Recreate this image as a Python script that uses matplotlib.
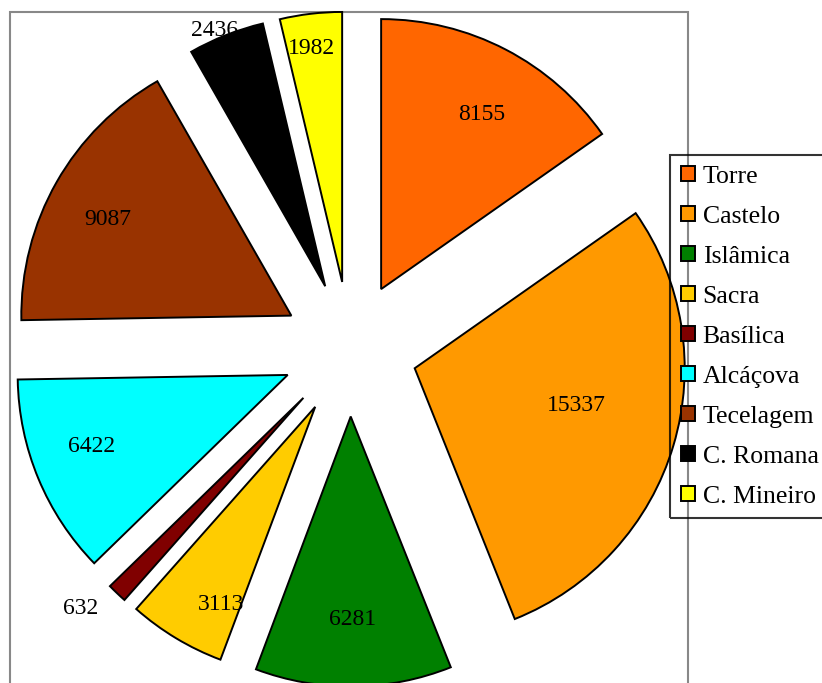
import numpy as np
import matplotlib
matplotlib.use("Agg")
import matplotlib.pyplot as plt
from matplotlib.patches import Rectangle

# data
sites = ["Torre", "Castelo", "Islâmica", "Sacra", "Basílica",
         "Alcáçova", "Tecelagem", "C. Romana", "C. Mineiro"]
counts = [8155, 15337, 6281, 3113, 632, 6422, 9087, 2436, 1982]
colours = ["#FF6600", "#FF9900", "#008000", "#FFCC00", "#800000",
           "#00FFFF", "#993300", "#000000", "#FFFF00"]

# where each value label sits: fraction of radius from the wedge tip,
# and fraction of the way across the wedge angle
label_r = [0.755, 0.611, 0.743, 0.803, 1.13, 0.769, 0.771, 1.04, 0.882]
label_a = [0.46, 0.543, 0.5, 0.75, -0.29, 0.43, 0.52, 0.594, 0.56]

W, H = 822, 683
plt.rcParams["font.family"] = ["Liberation Serif", "DejaVu Serif"]

fig = plt.figure(figsize=(W / 100, H / 100), dpi=100)
ax = fig.add_axes([0, 0, 1, 1])

cx, cy, rad = 350, H - 349, 270
# explode is in data units here (pixels), ~25% of the radius
wedges, _ = ax.pie(counts, colors=colours, startangle=90, counterclock=False,
                   explode=[0.25 * rad] * len(counts), center=(cx, cy), radius=rad,
                   wedgeprops=dict(edgecolor="black", linewidth=1.4))

for w, v, fr, fa in zip(wedges, counts, label_r, label_a):
    ang = np.deg2rad(w.theta1 + fa * (w.theta2 - w.theta1))
    x0, y0 = w.center
    ax.text(x0 + fr * w.r * np.cos(ang), y0 + fr * w.r * np.sin(ang), str(v),
            ha="center", va="center_baseline", fontsize=17, color="black")

# plot area border
ax.add_patch(Rectangle((10, -20), 678, H - 12 + 20, fill=False,
                       edgecolor="#888888", linewidth=1.5, zorder=0))

leg = ax.legend(wedges, sites, loc="upper left",
                bbox_to_anchor=(670 / W, (H - 155) / H),
                bbox_transform=fig.transFigure, borderaxespad=0,
                fontsize=18.5, frameon=True, fancybox=False,
                handlelength=0.55, handleheight=0.55, handletextpad=0.3,
                labelspacing=0.7, borderpad=0.42)
leg.get_frame().set_facecolor("none")
leg.get_frame().set_edgecolor("black")
leg.get_frame().set_linewidth(1.5)

ax.set_xlim(0, W)
ax.set_ylim(0, H)
ax.set_aspect("equal")
ax.axis("off")

fig.savefig("out.png", dpi=100)
